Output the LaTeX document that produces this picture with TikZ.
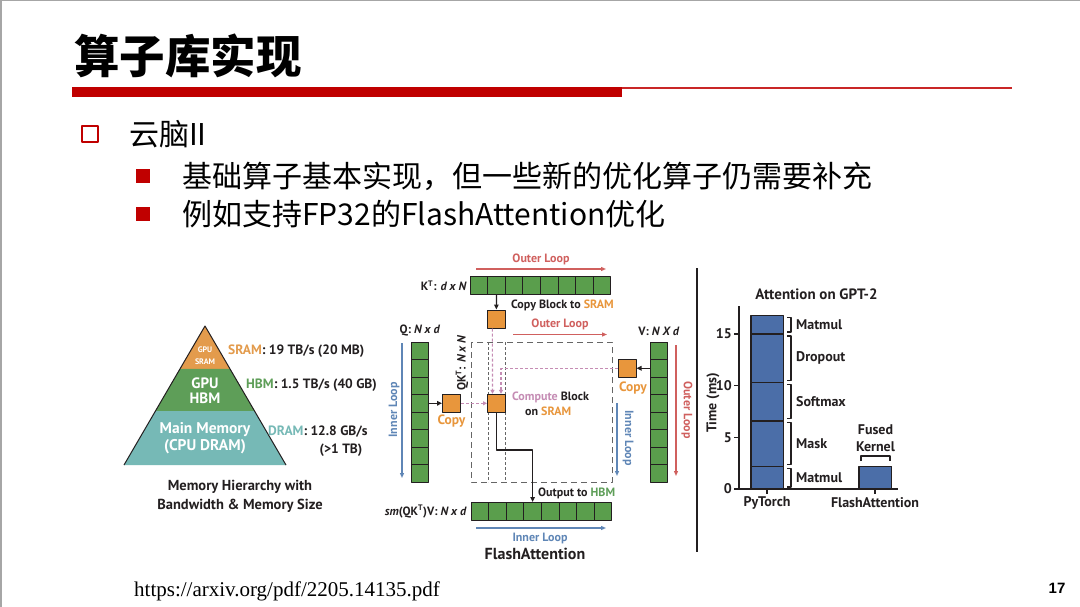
\documentclass[tikz,border=0pt]{standalone}
\usepackage{fontspec}
\setmainfont{PT Sans}
\newfontfamily\cjk{Noto Sans CJK SC}
\newfontfamily\serifurl{Liberation Serif}
\newfontfamily\arialfont{Liberation Sans}
\usetikzlibrary{calc,arrows.meta}
\definecolor{ttlred}{HTML}{C00000}
\definecolor{cellg}{HTML}{5A9E4C}
\definecolor{orng}{HTML}{E8963C}
\definecolor{loopred}{HTML}{D0605E}
\definecolor{loopblue}{HTML}{5F86B6}
\definecolor{cmppink}{HTML}{C58CB4}
\definecolor{hbmg}{HTML}{5E9E58}
\definecolor{dramt}{HTML}{76B9B6}
\definecolor{sramo}{HTML}{E39B4C}
\definecolor{barb}{HTML}{4B6EA8}
\definecolor{ink}{HTML}{231F20}
\newcommand{\fsz}[1]{\fontsize{#1}{#1}\selectfont}

\begin{document}
\begin{tikzpicture}[x=1pt,y=-1pt,line join=round,
  cell/.style={draw=ink,fill=cellg,minimum size=17.6pt,inner sep=0pt,line width=1pt},
  cpy/.style={draw=ink,fill=orng,minimum size=18pt,inner sep=0pt,line width=1pt},
  lbl/.style={font=\bfseries\fsz{12},text=ink,inner sep=0pt},
  pyr/.style={text=white,inner sep=0pt},
  blk/.style={-{Triangle[length=5pt,width=4.5pt]},line width=1.3pt,draw=ink},
  redarr/.style={-{Triangle[length=5pt,width=4pt]},line width=1.2pt,draw=loopred},
  bluearr/.style={-{Triangle[length=5pt,width=4pt]},line width=1.2pt,draw=loopblue},
  pinkdash/.style={-{Triangle[length=4pt,width=4pt]},draw=cmppink,line width=1.1pt,dash pattern=on 3pt off 2pt},
  box/.style={draw=gray!80!black,dash pattern=on 6pt off 4pt,line width=1pt},
  strip/.style={draw=gray!80!black,dash pattern=on 2.5pt off 2.5pt,line width=0.9pt},
  seg/.style={draw=ink,fill=barb,line width=1.4pt},
  brk/.style={draw=ink,line width=1.2pt},
  chart/.style={font=\bfseries\fsz{14},text=ink,inner sep=0pt}]
\useasboundingbox (0,0) rectangle (1080,607);
\fill[white] (0,0) rectangle (1080,607);
\draw[gray!70,line width=1.5pt] (0,0.75) -- (1080,0.75) (0.75,0) -- (0.75,607);

% title and bullets
\node[anchor=west,inner sep=0pt,font=\cjk\bfseries\fsz{45.5}] (title) at (74,56) {算子库实现};
\fill[ttlred] (72,87.5) rectangle (622,97);
\draw[ttlred!85,line width=1.3pt] (622,88) -- (1012,88);
\draw[ttlred,line width=2.6pt] (82,126) rectangle (98,142);
\node[anchor=west,inner sep=0pt,font=\cjk\fsz{30}] (b1) at (129,134) {云脑II};
\fill[ttlred] (136,169) rectangle (150,183);
\node[anchor=west,inner sep=0pt,font=\cjk\fsz{30}] (b2) at (182,176) {基础算子基本实现，但一些新的优化算子仍需要补充};
\fill[ttlred] (136,207) rectangle (150,221);
\node[anchor=west,inner sep=0pt,font=\cjk\fsz{30}] (b3) at (182,214) {例如支持FP32的FlashAttention优化};

% memory pyramid
\coordinate (apex) at (205,326);
\coordinate (bl) at (124,465);
\coordinate (br) at (286,465);
\coordinate (l1) at ($(apex)!0.309!(bl)$);
\coordinate (r1) at ($(apex)!0.309!(br)$);
\coordinate (l2) at ($(apex)!0.612!(bl)$);
\coordinate (r2) at ($(apex)!0.612!(br)$);
\fill[sramo] (apex)--(r1)--(l1)--cycle;
\fill[hbmg] (l1)--(r1)--(r2)--(l2)--cycle;
\fill[dramt] (l2)--(r2)--(br)--(bl)--cycle;
\draw[ink,line width=1pt] (bl)--(apex)--(br);
\node[pyr,font=\bfseries\fsz{8}] (gs1) at (205,350) {GPU};
\node[pyr,font=\bfseries\fsz{8}] (gs2) at (205,362) {SRAM};
\node[pyr,font=\bfseries\fsz{15}] (gh1) at (205,383) {GPU};
\node[pyr,font=\bfseries\fsz{15}] (gh2) at (205,398) {HBM};
\node[pyr,font=\bfseries\fsz{15.5}] (gd1) at (205,430) {Main Memory};
\node[pyr,font=\bfseries\fsz{15.5}] (gd2) at (205,447) {(CPU DRAM)};
\node[chart,anchor=west,font=\bfseries\fsz{13.5}] (sraml) at (228,351) {\textcolor{sramo}{SRAM}: 19 TB/s (20 MB)};
\node[chart,anchor=west,font=\bfseries\fsz{13.5}] (hbml) at (246,385) {\textcolor{hbmg}{HBM}: 1.5 TB/s (40 GB)};
\node[chart,anchor=west,font=\bfseries\fsz{13.5}] (draml) at (268,432) {\textcolor{dramt}{DRAM}: 12.8 GB/s};
\node[chart,font=\bfseries\fsz{13.5}] (draml2) at (341,450) {(>1 TB)};
\node[chart,align=center,font=\bfseries\fontsize{14.5}{19}\selectfont] (memcap) at (240,496) {Memory Hierarchy with\\Bandwidth \& Memory Size};

% flash attention tiling
\foreach \i in {0,...,7} {
  \node[cell] (k\i) at (478.8+17.6*\i,285.3) {};
  \node[cell] (q\i) at (419.8,350.8+17.5*\i) {};
  \node[cell] (v\i) at (658.8,350.8+17.5*\i) {};
  \node[cell] (o\i) at (479.8+17.6*\i,511.3) {};
}
\draw[box] (471,342) rectangle (612,482);
\draw[strip] (488.5,342) -- (488.5,482) (505.5,342) -- (505.5,482);
\node[cpy] (cpk) at (496.4,319) {};
\node[cpy] (cpq) at (451.5,403.3) {};
\node[cpy] (cmp) at (496.5,403.3) {};
\node[cpy] (cpv) at (627,368.3) {};
\draw[pinkdash] ($(cpk.south)+(-4,0)$) -- ($(cmp.north)+(-4,0)$);
\draw[pinkdash] (cpv.west) -| ($(cmp.north)+(4.5,0)$);
\draw[pinkdash] (cpq.east) -- (cmp.west);
\draw[blk] (k1.south) -- (cpk.north);
\draw[blk] (q3.east) -- (cpq.west);
\draw[blk] (v1.west) -- (cpv.east);
\draw[blk] (cmp.south) |- ($(o3.north)+(0,-52)$) -- (o3.north);

\coordinate (ol1a) at (476,269);  \coordinate (ol1b) at (606,269);
\coordinate (ol2a) at (513,334.5); \coordinate (ol2b) at (607,334.5);
\coordinate (il1a) at (402,343);  \coordinate (il1b) at (402,478);
\coordinate (il2a) at (617,403);  \coordinate (il2b) at (617,476);
\coordinate (ol3a) at (676,345);  \coordinate (ol3b) at (676,476);
\coordinate (il3a) at (476,528);  \coordinate (il3b) at (606,528);
\draw[redarr] (ol1a) -- (ol1b);
\draw[redarr] (ol2a) -- (ol2b);
\draw[redarr] (ol3a) -- (ol3b);
\draw[bluearr] (il1a) -- (il1b);
\draw[bluearr] (il2a) -- (il2b);
\draw[bluearr] (il3a) -- (il3b);

\node[lbl,text=loopred] (ol1) at (541,259) {Outer Loop};
\node[lbl,anchor=east] (ktl) at (467,285.5) {K\textsuperscript{T}: \textit{d x N}};
\node[lbl,anchor=west] (cbl) at (511,305) {Copy Block to \textcolor{orng}{SRAM}};
\node[lbl,text=loopred] (ol2) at (560,324.5) {Outer Loop};
\node[lbl] (ql) at (420,331) {Q: \textit{N x d}};
\node[lbl] (vl) at (659,331) {V: \textit{N X d}};
\node[lbl,rotate=90] (qkl) at (462,363) {QK\textsuperscript{T}: \textit{N x N}};
\node[lbl,rotate=90,text=loopblue] (il1) at (394,410) {Inner Loop};
\node[lbl,text=orng,font=\bfseries\fsz{13.5}] (cq) at (451.5,421) {Copy};
\node[lbl,text=orng,font=\bfseries\fsz{13.5}] (cv) at (633,388) {Copy};
\node[lbl,anchor=west] (cmpl1) at (512,397) {\textcolor{cmppink}{Compute} Block};
\node[lbl,anchor=west] (cmpl2) at (525,411) {on \textcolor{orng}{SRAM}};
\node[lbl,rotate=-90,text=loopblue] (il2) at (628,438) {Inner Loop};
\node[lbl,rotate=-90,text=loopred] (ol3) at (687,410) {Outer Loop};
\node[lbl,anchor=west] (outl) at (538,493) {Output to \textcolor{hbmg}{HBM}};
\node[lbl,anchor=east] (sml) at (467,511.5) {\textit{sm}(QK\textsuperscript{T})V: \textit{N x d}};
\node[lbl,text=loopblue] (il3) at (540,538) {Inner Loop};
\node[font=\bfseries\fsz{16},text=ink] (fa) at (535,554) {FlashAttention};

\draw[ink,line width=1.5pt] (697,268) -- (697,552);

% runtime chart
\coordinate (org) at (739,489);
\draw[ink,line width=1.5pt] (739,306) -- (org) -- (898,489);
\foreach \v in {0,5,10,15} {
  \draw[ink,line width=1.5pt] (734,489-10.33*\v) -- (739,489-10.33*\v);
  \node[chart,anchor=east] (t\v) at (732,489-10.33*\v) {\v};
}
\node[chart,rotate=90] (ylab) at (713,403) {Time (ms)};
\foreach \a/\b/\t [count=\n] in {0/2.2/Matmul,2.2/6.6/Mask,6.6/10.3/Softmax,10.3/15/Dropout,15/16.8/Matmul} {
  \draw[seg] (751,489-10.33*\a) rectangle (783.3,489-10.33*\b);
  \draw[brk] (787,489-10.33*\a-2) -- ++(4,0) -- (791,489-10.33*\b+2) -- ++(-4,0);
  \node[chart,anchor=west] (s\n) at (796,489-10.33*\a/2-10.33*\b/2) {\t};
}
\draw[seg] (859,489) rectangle (891.7,466.3);
\draw[brk] (861,461) -- (861,456) -- (890,456) -- (890,461);
\node[chart,align=center,font=\bfseries\fontsize{14}{16.5}\selectfont] (fk) at (875.5,438) {Fused\\Kernel};
\draw[ink,line width=1.5pt] (767,489) -- (767,494) (875,489) -- (875,494);
\node[chart] (ptl) at (767,503) {PyTorch};
\node[chart] (fal) at (875,503) {FlashAttention};
\node[font=\bfseries\fsz{15},text=ink] (ctitle) at (816.5,294) {Attention on GPT-2};

% footer
\node[anchor=west,inner sep=0pt,font=\serifurl\fsz{21}] (url) at (134,591) {https://arxiv.org/pdf/2205.14135.pdf};
\node[font=\arialfont\bfseries\fsz{15}] (pg) at (1057,588) {17};
\end{tikzpicture}
\end{document}
